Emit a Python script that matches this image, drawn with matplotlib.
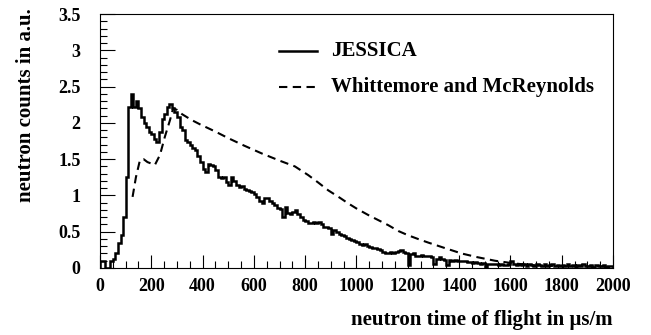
"""Neutron time-of-flight spectrum: JESSICA histogram vs. Whittemore and McReynolds."""

import matplotlib

matplotlib.use("Agg")

import matplotlib.pyplot as plt
import numpy as np
from matplotlib.ticker import FixedLocator, MultipleLocator

plt.rcParams["font.family"] = ["Liberation Serif", "DejaVu Serif"]
plt.rcParams["font.weight"] = "bold"

# JESSICA histogram, 10 us/m bins from 0 to 2000
BIN_WIDTH = 10
jessica_counts = [
    0.09, 0.09, 0.00, 0.00, 0.09, 0.12, 0.20, 0.34, 0.45, 0.70,
    1.26, 2.22, 2.40, 2.22, 2.30, 2.20, 2.08, 2.00, 1.95, 1.88,
    1.85, 1.78, 1.74, 1.88, 2.05, 2.12, 2.22, 2.26, 2.20, 2.15,
    2.08, 1.95, 1.90, 1.76, 1.74, 1.70, 1.65, 1.62, 1.55, 1.46,
    1.37, 1.33, 1.44, 1.42, 1.40, 1.35, 1.26, 1.24, 1.25, 1.18,
    1.14, 1.26, 1.20, 1.14, 1.12, 1.13, 1.09, 1.07, 1.06, 1.05,
    1.02, 0.98, 0.93, 0.89, 0.96, 0.96, 0.92, 0.90, 0.87, 0.83,
    0.81, 0.70, 0.84, 0.76, 0.74, 0.77, 0.80, 0.74, 0.70, 0.66,
    0.65, 0.62, 0.62, 0.64, 0.62, 0.64, 0.60, 0.57, 0.57, 0.55,
    0.47, 0.52, 0.50, 0.47, 0.45, 0.44, 0.41, 0.40, 0.39, 0.37,
    0.36, 0.33, 0.32, 0.33, 0.30, 0.29, 0.28, 0.27, 0.26, 0.25,
    0.22, 0.21, 0.20, 0.22, 0.21, 0.22, 0.24, 0.25, 0.22, 0.20,
    0.04, 0.19, 0.20, 0.17, 0.16, 0.18, 0.17, 0.16, 0.17, 0.15,
    0.05, 0.13, 0.15, 0.12, 0.11, 0.04, 0.11, 0.10, 0.11, 0.10,
    0.09, 0.09, 0.10, 0.08, 0.08, 0.07, 0.08, 0.07, 0.06, 0.07,
    0.02, 0.05, 0.06, 0.06, 0.05, 0.04, 0.05, 0.04, 0.04, 0.05,
    0.09, 0.05, 0.04, 0.06, 0.04, 0.05, 0.03, 0.05, 0.04, 0.03,
    0.05, 0.04, 0.03, 0.05, 0.03, 0.04, 0.05, 0.03, 0.04, 0.03,
    0.04, 0.03, 0.05, 0.03, 0.04, 0.02, 0.04, 0.03, 0.05, 0.03,
    0.03, 0.04, 0.02, 0.04, 0.03, 0.03, 0.04, 0.02, 0.03, 0.03,
]

# Whittemore and McReynolds reference spectrum
wm_tof = [127, 140, 156, 170, 185, 214, 234, 253, 273, 285, 300, 320, 357, 390,
          450, 500, 560, 630, 700, 760, 812, 850, 890, 930, 968, 1000, 1046,
          1085, 1124, 1163, 1202, 1240, 1280, 1340, 1410, 1470, 1540, 1600,
          1650, 1700, 1800, 1900, 2000]
wm_counts = [0.98, 1.25, 1.49, 1.50, 1.46, 1.42, 1.56, 1.81, 2.04, 2.20, 2.18,
             2.12, 2.04, 1.98, 1.88, 1.79, 1.69, 1.58, 1.48, 1.40, 1.28, 1.18,
             1.07, 0.98, 0.89, 0.82, 0.73, 0.66, 0.59, 0.51, 0.45, 0.40, 0.35,
             0.28, 0.20, 0.15, 0.10, 0.07, 0.05, 0.035, 0.025, 0.02, 0.02]

y_ticks = [0, 0.5, 1, 1.5, 2, 2.5, 3, 3.5]
y_tick_labels = ["0", "0.5", "1", "1.5", "2", "2.5", "3", "3.5"]
x_ticks = [0, 200, 400, 600, 800, 1000, 1200, 1400, 1600, 1800, 2000]

series_labels = ["JESSICA", "Whittemore and McReynolds"]


def main() -> None:
    fig = plt.figure(figsize=(6.51, 3.35), dpi=100)
    ax = fig.add_axes([0.1536, 0.2, 0.788, 0.758])

    edges = np.arange(len(jessica_counts) + 1) * BIN_WIDTH
    ax.stairs(jessica_counts, edges, color="black", linewidth=1.8, baseline=0)
    ax.plot(wm_tof, wm_counts, color="black", linewidth=1.5, linestyle=(0, (4, 2.6)))

    ax.set_xlim(0, 2000)
    ax.set_ylim(0, 3.5)
    ax.xaxis.set_major_locator(FixedLocator(x_ticks))
    ax.xaxis.set_minor_locator(MultipleLocator(50))
    ax.yaxis.set_major_locator(FixedLocator(y_ticks))
    ax.yaxis.set_minor_locator(MultipleLocator(0.1))
    ax.set_yticklabels(y_tick_labels)
    ax.tick_params(which="both", direction="in", top=False, right=False, labelsize=13, width=0.8)
    ax.tick_params(axis="x", which="major", length=9.5, pad=7)
    ax.tick_params(axis="x", which="minor", length=5)
    ax.tick_params(axis="y", which="major", length=10.5, pad=14)
    ax.tick_params(axis="y", which="minor", length=5)
    for spine in ax.spines.values():
        spine.set_linewidth(0.8)

    # legend drawn by hand, ROOT style (no frame)
    ax.plot([0.349, 0.423], [0.855, 0.855], transform=ax.transAxes, color="black", linewidth=1.8)
    ax.plot([0.349, 0.423], [0.713, 0.713], transform=ax.transAxes, color="black",
            linewidth=1.5, linestyle=(0, (4, 2.6)))
    ax.text(0.450, 0.855, series_labels[0], transform=ax.transAxes, fontsize=15, va="center")
    ax.text(0.450, 0.713, series_labels[1], transform=ax.transAxes, fontsize=15, va="center")

    fig.text(0.9416, 0.045, "neutron time of flight in \u03bcs/m", ha="right", va="center", fontsize=15)
    fig.text(0.040, 0.975, "neutron counts in a.u.", rotation=90, ha="center", va="top", fontsize=15)

    fig.savefig("out.png", dpi=100)
    plt.close(fig)


if __name__ == "__main__":
    main()
